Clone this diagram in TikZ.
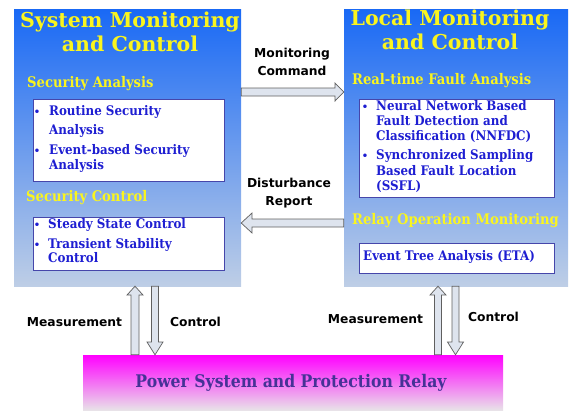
\documentclass[tikz,border=0pt]{standalone}
\usepackage{fontspec}
\setmainfont{DejaVu Serif}
\setsansfont{DejaVu Sans}
\newfontfamily\condserif{DejaVu Serif Condensed}
\usetikzlibrary{calc}
\definecolor{bluetop}{RGB}{25,105,245}
\definecolor{bluebot}{RGB}{190,206,230}
\definecolor{magtop}{RGB}{255,0,255}
\definecolor{magbot}{RGB}{232,226,232}
\definecolor{arrfill}{RGB}{222,228,238}
\definecolor{arrdraw}{RGB}{95,95,95}
\definecolor{boxline}{RGB}{70,70,170}
\definecolor{itemtext}{RGB}{30,30,210}
\definecolor{ttlyellow}{RGB}{250,245,30}
\definecolor{powertext}{RGB}{70,50,150}
\tikzset{
  panel/.style={draw=none, inner sep=0pt, top color=bluetop, bottom color=bluebot, minimum height=277pt},
  inbox/.style={draw=boxline, line width=0.8pt, fill=white, inner sep=0pt},
  ttl/.style={anchor=mid, inner sep=0pt, text=ttlyellow, font=\bfseries\fontsize{20.5}{24}\selectfont},
  sub/.style={anchor=mid west, inner sep=0pt, text=ttlyellow, font=\condserif\bfseries\fontsize{14.6}{16}\selectfont},
  itm/.style={anchor=mid west, inner sep=0pt, text=itemtext, font=\condserif\bfseries\fontsize{13.2}{15}\selectfont},
  bul/.style={anchor=mid, inner sep=0pt, text=itemtext, font=\bfseries\fontsize{10}{12}\selectfont},
  lbl/.style={anchor=mid, inner sep=0pt, text=black, font=\sffamily\bfseries\fontsize{12.3}{14}\selectfont},
  barrow/.style={draw=arrdraw, fill=arrfill, line width=0.7pt, line join=miter}
}
\begin{document}
\begin{tikzpicture}[x=1pt,y=-1pt]
\useasboundingbox (0,0) rectangle (569,410);
% panels
\node[panel, minimum width=227pt] (L) at (127.5,147.5) {};
\node[panel, minimum width=224pt] (R) at (456,147.5) {};
\node[draw=none, inner sep=0pt, top color=magtop, bottom color=magbot, minimum width=420pt, minimum height=55pt] (P) at (293,382.5) {};
\node[anchor=mid, inner sep=0pt, text=powertext, font=\condserif\bfseries\fontsize{17.4}{20}\selectfont] (Pt) at (291,385) {Power System and Protection Relay};
% left panel text
\node[ttl] (Lt1) at (130,25) {System Monitoring};
\node[ttl] (Lt2) at (130,49) {and Control};
\node[sub] (Ls1) at (27,85) {Security Analysis};
\node[sub] (Ls2) at (26,199) {Security Control};
\node[inbox, minimum width=191pt, minimum height=82pt] (LB1) at (128.5,140) {};
\node[inbox, minimum width=191pt, minimum height=53pt] (LB2) at (128.5,243.5) {};
\node[bul] (b1) at (37,113) {•};
\node[itm] (i1a) at (49,113) {Routine Security};
\node[itm] (i1b) at (49,132) {Analysis};
\node[bul] (b2) at (37,152) {•};
\node[itm] (i2a) at (49,152) {Event-based Security};
\node[itm] (i2b) at (49,167) {Analysis};
\node[bul] (b3) at (37,226) {•};
\node[itm] (i3a) at (48,226) {Steady State Control};
\node[bul] (b4) at (37,246) {•};
\node[itm] (i4a) at (48,246) {Transient Stability};
\node[itm] (i4b) at (48,260) {Control};
% right panel text
\node[ttl] (Rt1) at (450,23) {Local Monitoring};
\node[ttl] (Rt2) at (450,47) {and Control};
\node[sub] (Rs1) at (352,82) {Real-time Fault Analysis};
\node[sub] (Rs2) at (352,222) {Relay Operation Monitoring};
\node[inbox, minimum width=195pt, minimum height=98pt] (RB1) at (456.5,148) {};
\node[inbox, minimum width=195pt, minimum height=30pt] (RB2) at (456.5,258) {};
\node[bul] (b5) at (365,108) {•};
\node[itm] (i5a) at (376,108) {Neural Network Based};
\node[itm] (i5b) at (376,123) {Fault Detection and};
\node[itm] (i5c) at (376,138) {Classification (NNFDC)};
\node[bul] (b6) at (365,157) {•};
\node[itm] (i6a) at (376,157) {Synchronized Sampling};
\node[itm] (i6b) at (376,173) {Based Fault Location};
\node[itm] (i6c) at (376,188) {(SSFL)};
\node[itm] (i7) at (363,258) {Event Tree Analysis (ETA)};
% horizontal arrows
\draw[barrow] let \p1=(L.east), \p2=(R.west) in
  (\x1,88) -- (335,88) -- (335,83) -- (\x2,92) -- (335,101) -- (335,96) -- (\x1,96) -- cycle;
\draw[barrow] let \p1=(L.east), \p2=(R.west) in
  (\x2,219) -- (252,219) -- (252,213) -- (\x1,223) -- (252,233) -- (252,227) -- (\x2,227) -- cycle;
\node[lbl] (mc1) at (292,55) {Monitoring};
\node[lbl] (mc2) at (292,73) {Command};
\node[lbl] (dr1) at (289,185) {Disturbance};
\node[lbl] (dr2) at (289,203) {Report};
% vertical arrows
\draw[barrow] let \p1=(L.south), \p2=(P.north) in
  (131,\y2) -- (131,295) -- (127,295) -- (135,\y1) -- (143,295) -- (139,295) -- (139,\y2) -- cycle;
\draw[barrow] let \p1=(L.south), \p2=(P.north) in
  (151.5,\y1) -- (151.5,342) -- (147,342) -- (155,\y2) -- (163,342) -- (158.5,342) -- (158.5,\y1) -- cycle;
\draw[barrow] let \p1=(R.south), \p2=(P.north) in
  (434.5,\y2) -- (434.5,295) -- (430,295) -- (438,\y1) -- (446,295) -- (441.5,295) -- (441.5,\y2) -- cycle;
\draw[barrow] let \p1=(R.south), \p2=(P.north) in
  (452,\y1) -- (452,342) -- (447.5,342) -- (455.5,\y2) -- (463.5,342) -- (459,342) -- (459,\y1) -- cycle;
\node[lbl] (m1) at (74.5,324) {Measurement};
\node[lbl] (c1) at (195.5,324) {Control};
\node[lbl] (m2) at (375.5,321) {Measurement};
\node[lbl] (c2) at (493.5,319) {Control};
\end{tikzpicture}
\end{document}
